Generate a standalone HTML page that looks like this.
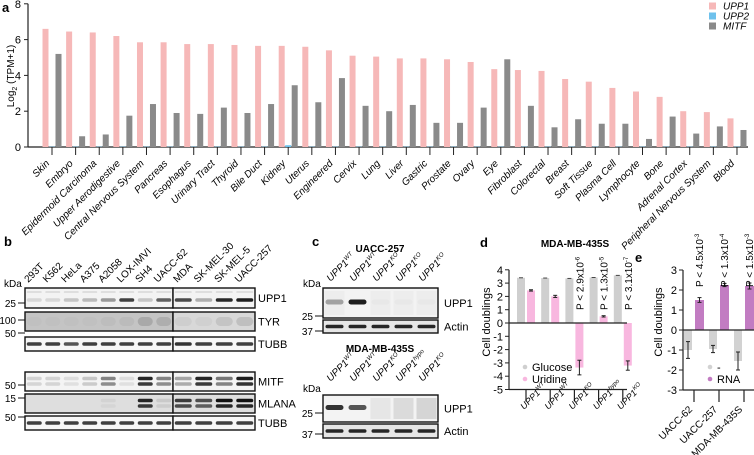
<!DOCTYPE html>
<html><head><meta charset="utf-8"><style>
body{margin:0;background:#fff}
svg{display:block;font-family:"Liberation Sans",sans-serif}
</style></head><body>
<svg id="fig" width="754" height="455" viewBox="0 0 754 455" xmlns="http://www.w3.org/2000/svg">
<g font-weight="bold" font-size="13">
<text x="2" y="12">a</text>
<text x="4" y="246">b</text>
<text x="312" y="246">c</text>
<text x="480" y="247">d</text>
<text x="635" y="262">e</text>
</g>
<g id="pa"></g>
<g id="pb"></g>
<g id="pc"></g>
<g id="pd"></g>
<g id="pe"></g>
</svg>
<script>
const tissues=["Skin","Embryo","Epidermoid Carcinoma","Upper Aerodigestive","Central Nervous System","Pancreas","Esophagus","Urinary Tract","Thyroid","Bile Duct","Kidney","Uterus","Engineered","Cervix","Lung","Liver","Gastric","Prostate","Ovary","Eye","Fibroblast","Colorectal","Breast","Soft Tissue","Plasma Cell","Lymphocyte","Bone","Adrenal Cortex","Peripheral Nervous System","Blood"];
const upp1=[6.6,6.45,6.4,6.2,5.85,5.85,5.75,5.75,5.7,5.65,5.65,5.6,5.4,5.1,5.05,4.95,4.95,4.9,4.75,4.35,4.3,4.25,3.8,3.65,3.3,3.1,2.8,2.0,1.95,1.6];
const upp2=[0.02,0.02,0.02,0.02,0.02,0.02,0.02,0.02,0.02,0.02,0.1,0.02,0.02,0.02,0.02,0.02,0.02,0.02,0.02,0.02,0.02,0.02,0.02,0.02,0.02,0.02,0.02,0.02,0.02,0.02];
const mitf=[5.2,0.6,0.7,1.75,2.4,1.9,1.85,2.2,1.9,2.4,3.45,2.5,3.85,2.3,2.0,2.35,1.35,1.35,2.2,4.9,2.3,1.1,1.55,1.3,1.3,0.45,1.7,0.75,1.15,0.95];
const aTicks=[0,2,4,6,8];
const dCats=[["WT"],["WT"],["KO"],["hypo"],["KO"]];
const dGlucose=[3.4,3.38,3.35,3.42,3.58];
const dUridine=[2.45,2.0,-3.35,0.5,-3.2];
const dUriErr=[0.05,0.08,0.55,0.05,0.35];
const dPvals=[null,null,["2.9","-6"],["1.3","-5"],["3.1","-7"]];
const dTicks=[4,3,2,1,0,-1,-2,-3,-4,-5];
const eCats=["UACC-62","UACC-257","MDA-MB-435S"];
const eMinus=[-1.0,-0.95,-1.55];
const eRNA=[1.5,2.25,2.2];
const eMinusErr=[0.42,0.18,0.45];
const eRNAErr=[0.12,0.08,0.15];
const ePvals=[["4.5","-3"],["1.3","-4"],["1.5","-3"]];
const eTicks=[3,2,1,0,-1,-2,-3];

const NS="http://www.w3.org/2000/svg";
function mk(p,tag,at,txt){const e=document.createElementNS(NS,tag);for(const k in at)e.setAttribute(k,at[k]);if(txt!==undefined)e.textContent=txt;p.appendChild(e);return e;}

/* ---------- Panel a ---------- */
const pa=document.getElementById('pa');
const ax0=28, ax1=748;
const ay=v=>147-v*17.9;
const ax=i=>52+i*23.62;
let e=mk(pa,'line',{x1:ax0,y1:ay(0),x2:ax1,y2:ay(0),stroke:'#222','stroke-width':1.2});

e=mk(pa,'line',{x1:ax0,y1:ay(0),x2:ax0,y2:ay(8),stroke:'#222','stroke-width':1.2});

aTicks.forEach(t=>{
  mk(pa,'line',{x1:ax0-4,y1:ay(t),x2:ax0,y2:ay(t),stroke:'#222'});
  e=mk(pa,'text',{x:ax0-7,y:ay(t)+4,'text-anchor':'end','font-size':11},t);
  
});
e=mk(pa,'text',{x:14,y:76,'text-anchor':'middle','font-size':10,transform:'rotate(-90 14 76)'});

e.innerHTML='Log<tspan font-size="7" dy="3">2</tspan><tspan dy="-3"> (TPM+1)</tspan>';
tissues.forEach((t,i)=>{
  const c=ax(i);
  e=mk(pa,'rect',{x:c-9.5,y:ay(upp1[i]),width:6,height:ay(0)-ay(upp1[i]),fill:'#f6b8b8'});
  
  e=mk(pa,'rect',{x:c-3,y:ay(upp2[i]),width:6,height:ay(0)-ay(upp2[i]),fill:'#6ec1ec'});
  
  e=mk(pa,'rect',{x:c+3.5,y:ay(mitf[i]),width:6,height:ay(0)-ay(mitf[i]),fill:'#8a8a8a'});
  
  mk(pa,'line',{x1:c,y1:ay(0),x2:c,y2:ay(0)+8,stroke:'#222'});
  e=mk(pa,'text',{x:c-2,y:164,'text-anchor':'end','font-size':10,'font-style':'italic',transform:`rotate(-45 ${c-2} 164)`},t);
  
});
[['UPP1','#f6b8b8',6],['UPP2','#6ec1ec',16],['MITF','#8a8a8a',26]].forEach(l=>{
  const g=mk(pa,'g',{});
  
  mk(g,'rect',{x:709,y:l[2]-3.5,width:7,height:7,fill:l[1]});
  mk(g,'text',{x:723,y:l[2]+3.5,'font-size':10,'font-style':'italic'},l[0]);
});

/* ---------- Blot helpers ---------- */
function box(p,x,y,w,h,bg,name){
  const r=mk(p,'rect',{x:x,y:y,width:w,height:h,fill:bg||'#f4f4f4',stroke:'#111','stroke-width':1.4});
  
}
function band(p,cx,cy,w,h,op){ if(op<=0)return; mk(p,'rect',{x:cx-w/2,y:cy-h/2,width:w,height:h,rx:h/2,fill:'#111',opacity:op}); }

/* ---------- Panel b ---------- */
const pb=document.getElementById('pb');
const lanesB=["293T","K562","HeLa","A375","A2058","LOX-IMVI","SH4","UACC-62","MDA","SK-MEL-30","SK-MEL-5","UACC-257"];
const lx=i=> i<8 ? 25+18.5*(i+0.5) : 173+20.5*(i-8+0.5);
lanesB.forEach((l,i)=>{const x=lx(i)-6;
  e=mk(pb,'text',{x:x,y:283,'font-size':10,transform:`rotate(-45 ${x} 283)`},l);
  });
mk(pb,'text',{x:4,y:287,'font-size':10},'kDa');
const rowsB=[
 {n:'UPP1',y:288,h:20,bg:'#f3f3f3',band:[0.12,0.12,0.2,0.25,0.4,0.8,0.2,0.65,0.75,0.3,0.9,0.95],mw:'25',my:303},
 {n:'TYR',y:312,h:19,bg:'#c4c4c4',band:[0.02,0.02,0.02,0.02,0.04,0.05,0.15,0.12,0.05,0.04,0.1,0.12],mw:'100',my:320},
 {n:'TUBB',y:337,h:14,bg:'#f6f6f6',band:[0.8,0.8,0.7,0.8,0.8,0.8,0.8,0.8,0.85,0.8,0.8,0.8],mw:'50',my:333},
 {n:'MITF',y:372,h:19,bg:'#f4f4f4',band:[0.15,0.15,0.1,0.2,0.5,0.1,0.9,0.5,0.35,0.9,0.55,0.95],mw:'50',my:385},
 {n:'MLANA',y:394,h:19,bg:'#dedede',band:[0,0,0,0,0.05,0,0.9,0.1,0.8,0.7,1,1],mw:'15',my:398},
 {n:'TUBB',y:416,h:14,bg:'#f6f6f6',band:[0.8,0.8,0.8,0.8,0.8,0.8,0.8,0.8,0.8,0.8,0.8,0.8],mw:'50',my:417}];
rowsB.forEach(r=>{
  box(pb,25,r.y,148,r.h,r.bg,'blot-'+r.n.toLowerCase());
  box(pb,173,r.y,82,r.h,r.n==='TYR'?'#d8d8d8':r.bg,'blot-'+r.n.toLowerCase()+'-right');
  r.band.forEach((o,i)=>{const w=i<8?15:17;
    if(r.n==='MITF'||r.n==='MLANA'){band(pb,lx(i),r.y+r.h/2-3,w,3.5,o);band(pb,lx(i),r.y+r.h/2+2.5,w,3.5,o*0.9);}
    else if(r.n==='TYR'){band(pb,lx(i),r.y+r.h/2,w,9,o);}
    else band(pb,lx(i),r.y+r.h/2+(r.n==='UPP1'?2:0),w,3.5,o);
    if(r.n==='UPP1')band(pb,lx(i),r.y+4,w,1.5,0.12);
  });
  e=mk(pb,'text',{x:258,y:r.y+r.h/2+4,'font-size':11},r.n);
  
  mk(pb,'text',{x:16,y:r.my+4,'font-size':10,'text-anchor':'end'},r.mw);
  mk(pb,'line',{x1:18,y1:r.my,x2:25,y2:r.my,stroke:'#111'});
});

/* ---------- Panel c ---------- */
const pc=document.getElementById('pc');
const cx=i=>323+23*(i+0.5);
function upplab(p,x,y,sup,fs){
  const t=mk(p,'text',{x:x,y:y,'font-size':fs||10,'font-style':'italic',transform:`rotate(-45 ${x} ${y})`});
  
  t.innerHTML='UPP1<tspan font-size="6" dy="-4">'+sup+'</tspan>';return t;
}
function cgroup(title,ty,laneY,kdaY,y1,h1,y2,h2,sups,b1,smear,m25,m37){
  e=mk(pc,'text',{x:380,y:ty,'text-anchor':'middle','font-size':10,'font-weight':'bold'},title);
  
  sups.forEach((s,i)=>upplab(pc,cx(i)-4,laneY,s));
  mk(pc,'text',{x:303,y:kdaY,'font-size':10},'kDa');
  box(pc,323,y1,115,h1,'#f3f3f3','blot-upp1');
  b1.forEach((o,i)=>{band(pc,cx(i),y1+h1/2-1,18,5,o);if(smear[i])mk(pc,'rect',{x:cx(i)-10,y:y1+3,width:20,height:h1-6,fill:'#888',opacity:smear[i]});});
  box(pc,323,y2,115,h2,'#e6e6e6','blot-actin');
  sups.forEach((s,i)=>band(pc,cx(i),y2+h2/2,18,3.5,0.9));
  mk(pc,'text',{x:444,y:y1+h1/2+4,'font-size':11},'UPP1');
  mk(pc,'text',{x:444,y:y2+h2/2+4,'font-size':11},'Actin');
  mk(pc,'text',{x:313,y:m25+4,'font-size':10,'text-anchor':'end'},'25');
  mk(pc,'line',{x1:315,y1:m25,x2:323,y2:m25,stroke:'#111'});
  mk(pc,'text',{x:313,y:m37+4,'font-size':10,'text-anchor':'end'},'37');
  mk(pc,'line',{x1:315,y1:m37,x2:323,y2:m37,stroke:'#111'});
}
cgroup('UACC-257',252,282,287,288,30,320,13,['WT','WT','KO','KO','KO'],[0.35,0.95,0.02,0.02,0.02],[0.05,0,0.05,0.05,0.05],316,331);
cgroup('MDA-MB-435S',352,382,392,395,27,424,14,['WT','WT','KO','hypo','KO'],[0.85,0.7,0,0,0],[0,0,0.12,0.22,0.28],413,434);

/* ---------- Panel d ---------- */
const pd=document.getElementById('pd');
const dx0=509, dx1=627;
const dy=v=>323-v*13.3;
const dxc=i=>526+i*24.2;
e=mk(pd,'text',{x:575,y:247,'text-anchor':'middle','font-size':10,'font-weight':'bold'},'MDA-MB-435S');

dCats.forEach((c,i)=>{
  const x=dxc(i);
  e=mk(pd,'rect',{x:x-9,y:dy(dGlucose[i]),width:8,height:dy(0)-dy(dGlucose[i]),fill:'#cfcfcf'});
  
  const u=dUridine[i];
  e=mk(pd,'rect',{x:x+1,y:Math.min(dy(u),dy(0)),width:8,height:Math.abs(dy(0)-dy(u)),fill:'#f8b7df'});
  
  mk(pd,'line',{x1:x+5,y1:dy(u-dUriErr[i]),x2:x+5,y2:dy(u+dUriErr[i]),stroke:'#222'});
  mk(pd,'line',{x1:x+3,y1:dy(u-dUriErr[i]),x2:x+7,y2:dy(u-dUriErr[i]),stroke:'#222'});
  mk(pd,'line',{x1:x+3,y1:dy(u+dUriErr[i]),x2:x+7,y2:dy(u+dUriErr[i]),stroke:'#222'});
  mk(pd,'line',{x1:x-7,y1:dy(dGlucose[i]),x2:x-3,y2:dy(dGlucose[i]),stroke:'#444'});
  mk(pd,'line',{x1:x,y1:dy(-5),x2:x,y2:dy(-5)+12,stroke:'#222','stroke-width':1.2});
  upplab(pd,x-2,410,c[0],9);
  if(dPvals[i]){const px=x+9,py=310;
    const t=mk(pd,'text',{x:px,y:py,'font-size':10,transform:`rotate(-90 ${px} ${py})`});
    
    t.innerHTML='P &lt; '+dPvals[i][0]+'x10<tspan font-size="6" dy="-4">'+dPvals[i][1]+'</tspan>';}
});
mk(pd,'line',{x1:dx0,y1:dy(0),x2:dx1,y2:dy(0),stroke:'#222','stroke-width':1.2});
mk(pd,'line',{x1:dx0,y1:dy(-5),x2:dx1,y2:dy(-5),stroke:'#222','stroke-width':1.2});
mk(pd,'line',{x1:dx0,y1:dy(4),x2:dx0,y2:dy(-5),stroke:'#222','stroke-width':1.2});
dTicks.forEach(t=>{mk(pd,'line',{x1:dx0-4,y1:dy(t),x2:dx0,y2:dy(t),stroke:'#222'});
  e=mk(pd,'text',{x:dx0-6,y:dy(t)+4,'text-anchor':'end','font-size':11},t);
  });
e=mk(pd,'text',{x:490,y:322,'text-anchor':'middle','font-size':11,transform:'rotate(-90 490 322)'},'Cell doublings');

[['Glucose','#cfcfcf',370],['Uridine','#f8b7df',382]].forEach(l=>{const g=mk(pd,'g',{});
  
  mk(g,'circle',{cx:525,cy:l[2]-3,r:2.3,fill:l[1]});mk(g,'text',{x:532,y:l[2]+1,'font-size':11},l[0]);});

/* ---------- Panel e ---------- */
const pe=document.getElementById('pe');
const ex0=683, ex1=754;
const ey=v=>330-v*20;
const exc=i=>694+i*25;
eCats.forEach((c,i)=>{
  const x=exc(i);
  const m=eMinus[i], r=eRNA[i];
  e=mk(pe,'rect',{x:x-10,y:ey(0),width:8,height:ey(m)-ey(0),fill:'#d2d2d2'});
  
  e=mk(pe,'rect',{x:x+1,y:ey(r),width:9,height:ey(0)-ey(r),fill:'#c27cc2'});
  
  [[x-6,m,eMinusErr[i]],[x+5.5,r,eRNAErr[i]]].forEach(q=>{
    mk(pe,'line',{x1:q[0],y1:ey(q[1]-q[2]),x2:q[0],y2:ey(q[1]+q[2]),stroke:'#222'});
    mk(pe,'line',{x1:q[0]-2,y1:ey(q[1]-q[2]),x2:q[0]+2,y2:ey(q[1]-q[2]),stroke:'#222'});
    mk(pe,'line',{x1:q[0]-2,y1:ey(q[1]+q[2]),x2:q[0]+2,y2:ey(q[1]+q[2]),stroke:'#222'});
  });
  mk(pe,'line',{x1:x,y1:ey(-3),x2:x,y2:ey(-3)+12,stroke:'#222','stroke-width':1.2});
  e=mk(pe,'text',{x:x-1,y:410,'text-anchor':'end','font-size':10,transform:`rotate(-45 ${x-1} 410)`},c);
  
  const px=x+9,py=287;
  const t=mk(pe,'text',{x:px,y:py,'font-size':10,transform:`rotate(-90 ${px} ${py})`});
  
  t.innerHTML='P &lt; '+ePvals[i][0]+'x10<tspan font-size="6" dy="-4">'+ePvals[i][1]+'</tspan>';
});
mk(pe,'line',{x1:ex0,y1:ey(0),x2:ex1,y2:ey(0),stroke:'#222','stroke-width':1.2});
mk(pe,'line',{x1:ex0,y1:ey(-3),x2:ex1,y2:ey(-3),stroke:'#222','stroke-width':1.2});
mk(pe,'line',{x1:ex0,y1:ey(3),x2:ex0,y2:ey(-3),stroke:'#222','stroke-width':1.2});
eTicks.forEach(t=>{mk(pe,'line',{x1:ex0-4,y1:ey(t),x2:ex0,y2:ey(t),stroke:'#222'});
  e=mk(pe,'text',{x:ex0-6,y:ey(t)+4,'text-anchor':'end','font-size':11},t);
  });
e=mk(pe,'text',{x:662,y:322,'text-anchor':'middle','font-size':11,transform:'rotate(-90 662 322)'},'Cell doublings');

[['-','#d2d2d2',370],['RNA','#c27cc2',382]].forEach(l=>{const g=mk(pe,'g',{});
  
  mk(g,'circle',{cx:710,cy:l[2]-3,r:2.3,fill:l[1]});mk(g,'text',{x:717,y:l[2]+1,'font-size':11},l[0]);});
</script>
</body></html>
